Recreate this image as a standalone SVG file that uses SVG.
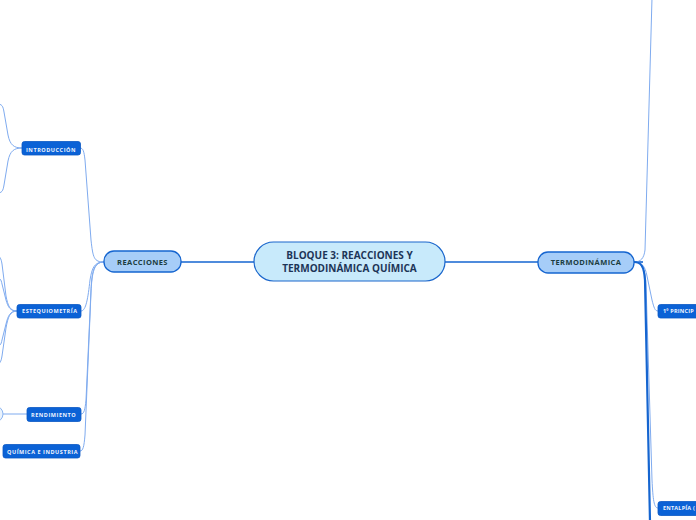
<svg xmlns="http://www.w3.org/2000/svg" width="696" height="520" viewBox="0 0 696 520">
<style>
.c1{fill:none;stroke:#1565d0;stroke-width:1.6}
.c2{fill:none;stroke:#7fabef;stroke-width:1}
.c3{fill:none;stroke:#1565d0;stroke-width:2.2}
.sub{fill:#0b62d6;stroke:#0a58c4;stroke-width:0.8}
.subt{font-family:"Open Sans","Liberation Sans",sans-serif;font-weight:bold;font-size:5.5px;letter-spacing:0.55px;fill:#eef4ff}
.edge{letter-spacing:0.2px}
.mid{fill:#a6cdf8;stroke:#1565d0;stroke-width:1.3}
.midt{font-family:"Open Sans","Liberation Sans",sans-serif;font-weight:bold;font-size:7.5px;letter-spacing:0.4px;fill:#1c3d40;text-anchor:middle}
</style>
<rect width="696" height="520" fill="#ffffff"/>
<g id="connectors">
<path class="c1" d="M181,262 L254,262"/>
<path class="c1" d="M445,262 L538,262"/>
<path class="c2" d="M104,262 C94,262 93,258 91,240 L85,160 C84,151 83,148 80,148"/>
<path class="c2" d="M104,262 C94,262 92,268 90,280 C88,298 86,311 81,311"/>
<path class="c2" d="M104,262 C94,262 92,270 91,290 L86,400 C85,410 84,414 81,414"/>
<path class="c2" d="M104,262 C94,262 92,272 91,292 L85,435 C84,447 83,451 80,451"/>
<path class="c2" d="M22,148 C14,148 10,145 8,135 L4,112 C3,106 2,104 -3,104"/>
<path class="c2" d="M22,148 C14,148 10,151 8,161 L4,185 C3,191 2,193 -3,193"/>
<path class="c2" d="M17,311 C10,311 8,306 6,296 L2,264 C1,258 0,256 -4,256"/>
<path class="c2" d="M17,311 C10,311 8,307 6,300 L2,284 C1,279 0,278 -4,278"/>
<path class="c2" d="M17,311 C10,311 8,316 6,324 L2,340 C1,345 0,346 -4,346"/>
<path class="c2" d="M17,311 C10,311 8,317 6,328 L2,356 C1,362 0,364 -4,364"/>
<path class="c2" d="M27,414 L3,414"/>
<path class="c1" d="M634,262 L643,262"/>
<path class="c2" d="M634,262 C641,262 644,258 645,250 L652,-2"/>
<path class="c2" d="M634,262 C642,262 645,266 647,276 L652,300 C654,308 655,311 658,311"/>
<path class="c2" d="M634,262 C642,262 645,268 646,285 L652,480 C653,500 654,508 658,508"/>
<path class="c3" d="M634,262 C641,262 644,266 645,280 L650,522"/>
</g>
<g id="root">
<rect x="254" y="242" width="191" height="39" rx="19.5" fill="#c8eafb" stroke="#1a66cc" stroke-width="1.2"/>
<text x="349.5" y="258.5" text-anchor="middle" font-family="'Open Sans','Liberation Sans',sans-serif" font-weight="bold" font-size="10" fill="#1d3557">BLOQUE 3: REACCIONES Y</text>
<text x="349.5" y="271.5" text-anchor="middle" font-family="'Open Sans','Liberation Sans',sans-serif" font-weight="bold" font-size="10" fill="#1d3557">TERMODINÁMICA QUÍMICA</text>
</g>
<g id="reacciones">
<rect class="mid" x="104" y="251" width="77" height="21" rx="10"/>
<text class="midt" x="142.5" y="264.5">REACCIONES</text>
</g>
<g id="termodinamica">
<rect class="mid" x="538" y="252" width="96" height="21" rx="10"/>
<text class="midt" x="586" y="265">TERMODINÁMICA</text>
</g>
<g id="introduccion">
<rect class="sub" x="22" y="141.5" width="58.5" height="13.5" rx="2.5"/>
<text class="subt" x="26" y="151.5">INTRODUCCIÓN</text>
</g>
<g id="estequiometria">
<rect class="sub" x="17" y="304.5" width="64" height="13.5" rx="2.5"/>
<text class="subt" x="22" y="313.3">ESTEQUIOMETRÍA</text>
</g>
<g id="rendimiento">
<rect class="sub" x="27" y="407.5" width="54" height="14" rx="2.5"/>
<text class="subt" x="31" y="416.5">RENDIMIENTO</text>
</g>
<g id="rendimiento-child">
<rect x="-40" y="406" width="43" height="16" rx="8" fill="#eaf3fd" stroke="#8ab4f0" stroke-width="1"/>
</g>
<g id="quimica-industria">
<rect class="sub" x="3" y="444.5" width="77" height="13.5" rx="2.5"/>
<text class="subt" x="7" y="453.5">QUÍMICA E INDUSTRIA</text>
</g>
<g id="primer-principio">
<rect class="sub" x="658" y="304.5" width="60" height="13.5" rx="2.5"/>
<text class="subt edge" x="663" y="313.3">1º PRINCIP</text>
</g>
<g id="entalpia">
<rect class="sub" x="658" y="501.5" width="60" height="14" rx="2.5"/>
<text class="subt edge" x="663" y="510">ENTALPÍA (</text>
</g>
</svg>
